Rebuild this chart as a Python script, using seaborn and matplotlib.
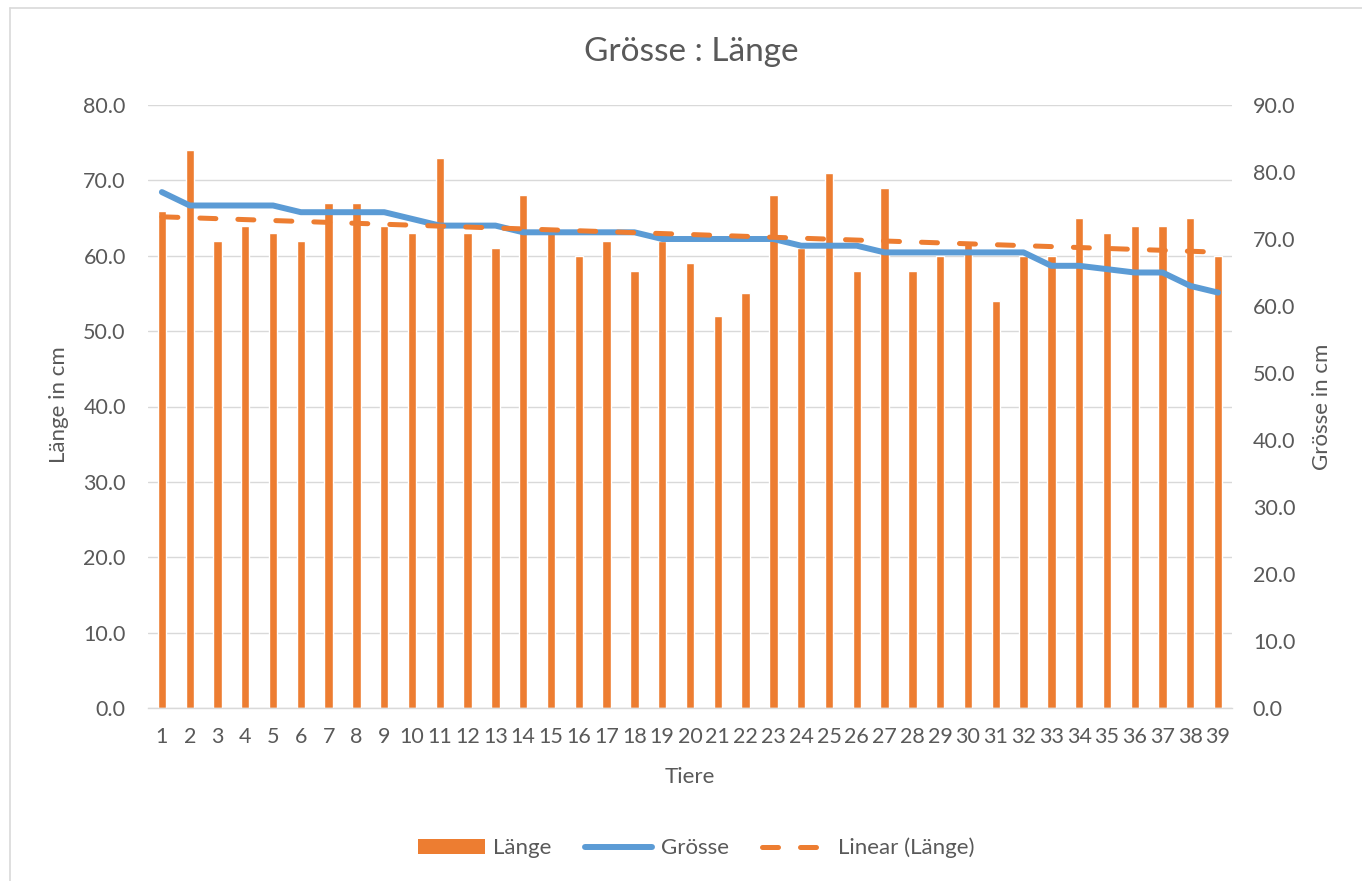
import numpy as np
import pandas as pd
import matplotlib.pyplot as plt
import seaborn as sns
from matplotlib.lines import Line2D
from matplotlib.patches import Patch
from matplotlib.ticker import FormatStrFormatter, MultipleLocator

tiere = list(range(1, 40))
laenge = [66, 74, 62, 64, 63, 62, 67, 67, 64, 63, 73, 63, 61, 68, 63, 60, 62, 58, 62, 59,
          52, 55, 68, 61, 71, 58, 69, 58, 60, 62, 54, 60, 60, 65, 63, 64, 64, 65, 60]
groesse = [77, 75, 75, 75, 75, 74, 74, 74, 74, 73, 72, 72, 72, 71, 71, 71, 71, 71, 70, 70,
           70, 70, 70, 69, 69, 69, 68, 68, 68, 68, 68, 68, 66, 66, 65.5, 65, 65, 63, 62]

df = pd.DataFrame({"Tiere": tiere, "Länge": laenge, "Grösse": groesse})
df["pos"] = np.arange(len(df))

orange = "#ED7D31"
blue = "#5B9BD5"
grey_txt = "#595959"
grid_col = "#D9D9D9"

sns.set_theme(style="white")
plt.rcParams["font.family"] = ["Lato", "DejaVu Sans"]

fig = plt.figure(figsize=(13.62, 8.81), dpi=100)
ax = fig.add_axes([148 / 1362, 1 - 708 / 881, (1232 - 148) / 1362, (708 - 105) / 881])

sns.barplot(data=df, x="Tiere", y="Länge", color=orange, width=0.3, saturation=1,
            ax=ax, zorder=2)

ax2 = ax.twinx()
sns.lineplot(data=df, x="pos", y="Grösse", color=blue, linewidth=4.3, ax=ax2,
             zorder=3, solid_capstyle="round", solid_joinstyle="round")

# linear trendline of Länge
k, d = np.polyfit(df["Tiere"], df["Länge"], 1)
trend = k * df["Tiere"] + d
ax2.plot(df["pos"], trend * 90 / 80, color=orange, linewidth=3.6,
         linestyle=(0, (3.2, 4.4)), dash_capstyle="round", zorder=4)

ax.set_xlim(-0.5, 38.5)
ax.set_ylim(0, 80)
ax2.set_ylim(0, 90)
ax.yaxis.set_major_locator(MultipleLocator(10))
ax2.yaxis.set_major_locator(MultipleLocator(10))
ax.yaxis.set_major_formatter(FormatStrFormatter("%.1f"))
ax2.yaxis.set_major_formatter(FormatStrFormatter("%.1f"))

ax.grid(axis="y", color=grid_col, linewidth=1.0, zorder=0)
ax.set_axisbelow(True)
for a in (ax, ax2):
    for s in a.spines.values():
        s.set_visible(False)
    a.set_xlabel("")
    a.set_ylabel("")
ax.spines["bottom"].set_visible(True)
ax.spines["bottom"].set_color(grid_col)
ax.spines["bottom"].set_linewidth(1.0)

ax.tick_params(axis="both", length=0, labelsize=15.5, labelcolor=grey_txt)
ax.tick_params(axis="y", pad=16)
ax.tick_params(axis="x", pad=14)
ax2.tick_params(axis="y", length=0, labelsize=15.5, labelcolor=grey_txt, pad=15)

fig.text(691 / 1362, 1 - 52 / 881, "Grösse : Länge", ha="center", va="center",
         fontsize=24, color=grey_txt)
fig.text(59 / 1362, 1 - 405 / 881, "Länge in cm", ha="center", va="center",
         rotation=90, fontsize=16, color=grey_txt)
fig.text(1322 / 1362, 1 - 407 / 881, "Grösse in cm", ha="center", va="center",
         rotation=90, fontsize=16, color=grey_txt)
fig.text(690 / 1362, 1 - 777 / 881, "Tiere", ha="center", va="center",
         fontsize=16, color=grey_txt)

handles = [
    Patch(facecolor=orange, edgecolor="none", label="Länge"),
    Line2D([], [], color=blue, linewidth=4.3, solid_capstyle="round", label="Grösse"),
    Line2D([], [], color=orange, linewidth=3.6, linestyle=(0, (3.2, 4.4)),
           dash_capstyle="round", label="Linear (Länge)"),
]
leg = fig.legend(handles=handles, loc="center", bbox_to_anchor=(696 / 1362, 1 - 848 / 881),
                 ncol=3, frameon=False, fontsize=16, handlelength=3.0,
                 columnspacing=1.5, handletextpad=0.4)
for t in leg.get_texts():
    t.set_color(grey_txt)

# outer chart frame (cropped at right/bottom)
fig.add_artist(Line2D([9.5 / 1362, 9.5 / 1362], [0, 1 - 7.5 / 881],
                      transform=fig.transFigure, color=grid_col, linewidth=1.2))
fig.add_artist(Line2D([9.5 / 1362, 1], [1 - 7.5 / 881, 1 - 7.5 / 881],
                      transform=fig.transFigure, color=grid_col, linewidth=1.2))

fig.savefig("out.png", dpi=100)
